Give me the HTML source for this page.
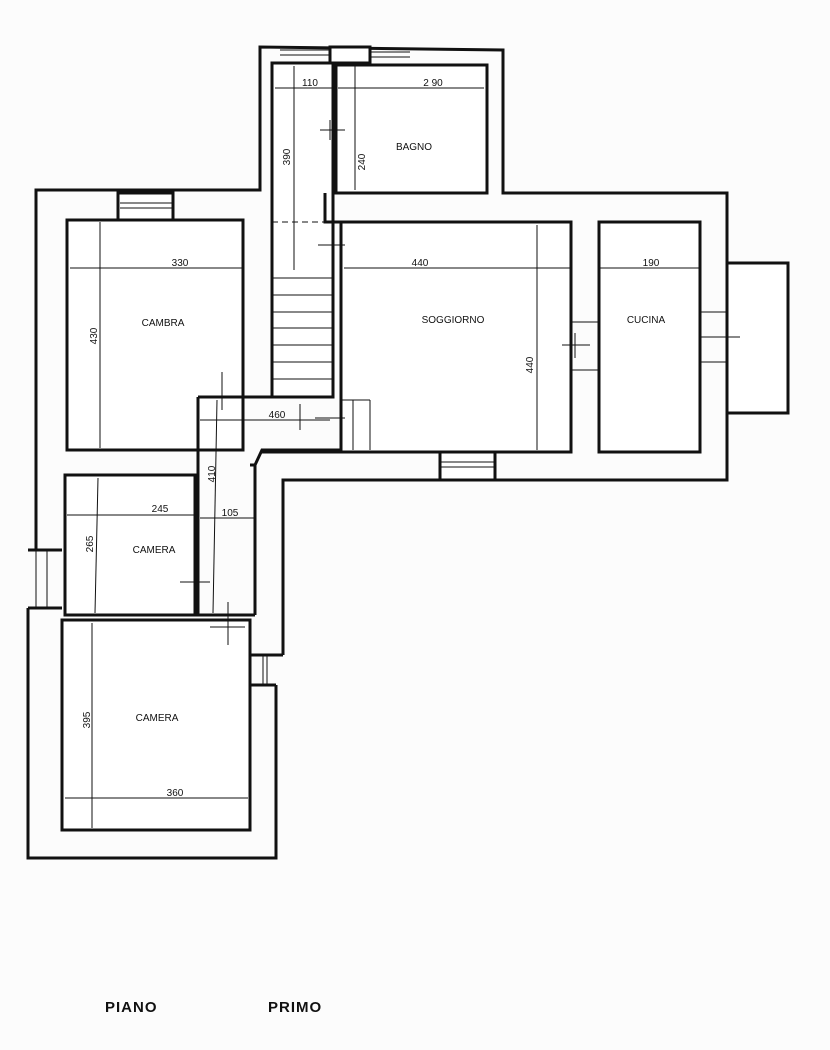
<!DOCTYPE html>
<html><head><meta charset="utf-8"><style>
html,body{margin:0;padding:0;background:#fff;}
svg{display:block}
text{font-family:"Liberation Sans",sans-serif;fill:#111;}
</style></head><body>
<svg width="830" height="1050" viewBox="0 0 830 1050" xmlns="http://www.w3.org/2000/svg">
<rect width="830" height="1050" fill="#fcfcfc"/>
<g fill="none" stroke="#111" stroke-width="3" stroke-linejoin="miter">
<path d="M36,550 L36,190 L260,190 L260,47 L503,50 L503,193 L727,193 L727,480 L283,480 L283,655"/>
<path d="M276,685 L276,858 L28,858 L28,608"/>
<line x1="36" y1="550" x2="36" y2="608" stroke-width="1"/>
<line x1="47" y1="550" x2="47" y2="608" stroke-width="1"/>
<line x1="28" y1="608" x2="62" y2="608"/>
<line x1="28" y1="550" x2="62" y2="550"/>
<line x1="283" y1="655" x2="250" y2="655"/>
<line x1="276" y1="685" x2="250" y2="685"/>
<line x1="263" y1="655" x2="263" y2="685" stroke-width="1"/>
<line x1="267" y1="655" x2="267" y2="685" stroke-width="1"/>
<rect x="67" y="220" width="176" height="230" fill="#fff"/>
<rect x="65" y="475" width="130" height="140" fill="#fff"/>
<rect x="62" y="620" width="188" height="210" fill="#fff"/>
<path d="M198,397 L272,397 M198,397 L198,615 L255,615 M255,615 L255,465 L262,450 L341,450 M255,465 L250,465" />
<rect x="272" y="63" width="61" height="334" fill="#fff"/>
<rect x="336" y="65" width="151" height="128" fill="#fff"/>
<path d="M325,193 L325,222 L571,222 L571,320 M571,372 L571,452 L496,452 M440,452 L262,452" />
<rect x="341" y="222" width="230" height="230" fill="#fff"/>
<rect x="599" y="222" width="101" height="230" fill="#fff"/>
<rect x="727" y="263" width="61" height="150" fill="#fff"/>
<rect x="330" y="47" width="40" height="16" fill="#fff"/>
<rect x="118" y="193" width="55" height="27" fill="#fff"/>
<rect x="440" y="452" width="55" height="28" fill="#fff"/>
</g>
<g stroke="#111" stroke-width="1" fill="none">
<line x1="280" y1="50" x2="330" y2="50"/><line x1="280" y1="55" x2="330" y2="55"/>
<line x1="370" y1="52" x2="410" y2="52"/><line x1="370" y1="57" x2="410" y2="57"/>
<line x1="120" y1="203" x2="172" y2="203"/><line x1="120" y1="208" x2="172" y2="208"/>
<line x1="441" y1="462" x2="494" y2="462"/><line x1="441" y1="467" x2="494" y2="467"/>
<line x1="571" y1="322" x2="599" y2="322"/><line x1="571" y1="370" x2="599" y2="370"/>
<line x1="562" y1="345" x2="590" y2="345"/><line x1="575" y1="333" x2="575" y2="358"/>
<line x1="700" y1="312" x2="727" y2="312"/><line x1="700" y1="362" x2="727" y2="362"/>
<line x1="700" y1="337" x2="740" y2="337"/>
<line x1="272" y1="278" x2="333" y2="278"/><line x1="272" y1="295" x2="333" y2="295"/>
<line x1="272" y1="312" x2="333" y2="312"/><line x1="272" y1="328" x2="333" y2="328"/>
<line x1="272" y1="345" x2="333" y2="345"/><line x1="272" y1="362" x2="333" y2="362"/>
<line x1="272" y1="379" x2="333" y2="379"/>
<line x1="272" y1="222" x2="325" y2="222" stroke-dasharray="6,4"/>
<line x1="294" y1="66" x2="294" y2="270"/>
<line x1="320" y1="130" x2="345" y2="130"/><line x1="330" y1="120" x2="330" y2="140"/>
<line x1="318" y1="245" x2="345" y2="245"/>
<line x1="315" y1="418" x2="345" y2="418"/>
<line x1="342" y1="400" x2="370" y2="400"/><line x1="370" y1="400" x2="370" y2="450"/>
<line x1="353" y1="400" x2="353" y2="450"/>
<line x1="275" y1="88" x2="335" y2="88"/><line x1="338" y1="88" x2="484" y2="88"/>
<line x1="355" y1="66" x2="355" y2="190"/>
<line x1="70" y1="268" x2="242" y2="268"/><line x1="100" y1="222" x2="100" y2="448"/>
<line x1="344" y1="268" x2="570" y2="268"/><line x1="537" y1="225" x2="537" y2="450"/>
<line x1="600" y1="268" x2="700" y2="268"/>
<line x1="200" y1="420" x2="330" y2="420"/><line x1="217" y1="400" x2="213" y2="613"/>
<line x1="222" y1="372" x2="222" y2="410"/>
<line x1="67" y1="515" x2="194" y2="515"/><line x1="98" y1="478" x2="95" y2="613"/>
<line x1="200" y1="518" x2="255" y2="518"/>
<line x1="180" y1="582" x2="210" y2="582"/><line x1="196" y1="568" x2="196" y2="598"/>
<line x1="228" y1="602" x2="228" y2="645"/><line x1="210" y1="627" x2="245" y2="627"/>
<line x1="65" y1="798" x2="248" y2="798"/><line x1="92" y1="623" x2="92" y2="828"/>
<line x1="300" y1="404" x2="300" y2="430"/>
</g>
<g font-size="10" text-anchor="middle">
<text x="310" y="86">110</text><text x="433" y="86">2 90</text>
<text x="414" y="150">BAGNO</text>
<text x="180" y="266">330</text><text x="163" y="326">CAMBRA</text>
<text x="420" y="266">440</text><text x="453" y="323">SOGGIORNO</text>
<text x="651" y="266">190</text><text x="646" y="323">CUCINA</text>
<text x="277" y="418">460</text>
<text x="160" y="512">245</text><text x="230" y="516">105</text>
<text x="154" y="553">CAMERA</text>
<text x="157" y="721">CAMERA</text>
<text x="175" y="796">360</text>
<text transform="translate(290,157) rotate(-90)">390</text>
<text transform="translate(365,162) rotate(-90)">240</text>
<text transform="translate(97,336) rotate(-90)">430</text>
<text transform="translate(533,365) rotate(-90)">440</text>
<text transform="translate(215,474) rotate(-90)">410</text>
<text transform="translate(93,544) rotate(-90)">265</text>
<text transform="translate(90,720) rotate(-90)">395</text>
</g>
<text x="105" y="1012" font-size="15" font-weight="bold" letter-spacing="1">PIANO</text>
<text x="268" y="1012" font-size="15" font-weight="bold" letter-spacing="1">PRIMO</text>
</svg>
</body></html>
